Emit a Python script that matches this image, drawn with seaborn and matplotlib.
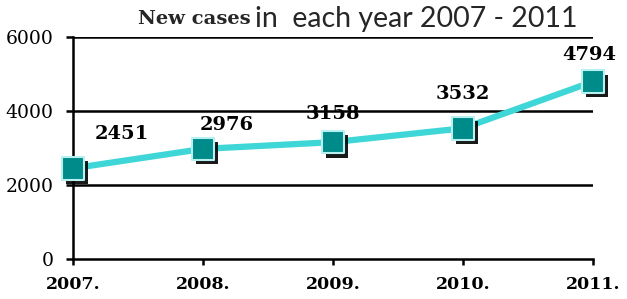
import matplotlib
matplotlib.use("Agg")
import matplotlib.pyplot as plt
import matplotlib.patheffects as pe
import seaborn as sns
import pandas as pd

years = [2007, 2008, 2009, 2010, 2011]
year_labels = ["2007.", "2008.", "2009.", "2010.", "2011."]
new_cases = [2451, 2976, 3158, 3532, 4794]
y_ticks = [0, 2000, 4000, 6000]

# label offsets in points (dx, dy)
label_offsets = [(35, 25), (17, 17), (0, 20), (0, 25), (-3, 19)]

df = pd.DataFrame({"year": years, "cases": new_cases})

sns.set_style("white")
plt.rcParams["font.family"] = ["DejaVu Serif"]

fig = plt.figure(figsize=(6.27, 2.99), dpi=100)
ax = fig.add_axes([0.1164, 0.1338, 0.8294, 0.7425])

sns.lineplot(data=df, x="year", y="cases", ax=ax, color="#3ed6d6",
             linewidth=4.5, zorder=3, clip_on=False)
ax.scatter(df["year"], df["cases"], s=260, marker="s", color="#008b8b",
           edgecolors="#b8f0f0", linewidths=1.5, zorder=4, clip_on=False,
           path_effects=[pe.SimplePatchShadow(offset=(3, -3),
                                              shadow_rgbFace="black",
                                              alpha=0.9),
                         pe.Normal()])

for (x, y), (dx, dy) in zip(zip(years, new_cases), label_offsets):
    ax.annotate(f"{y}", (x, y), xytext=(dx, dy), textcoords="offset points",
                ha="center", va="center", fontsize=14, fontweight="bold",
                color="black", zorder=5)

ax.set_xlim(2007, 2011)
ax.set_ylim(0, 6000)
ax.set_xticks(years)
ax.set_xticklabels(year_labels, fontsize=12.5, fontweight="bold")
ax.set_yticks(y_ticks)
ax.set_yticklabels([str(v) for v in y_ticks], fontsize=13.5)
ax.set_xlabel("")
ax.set_ylabel("")

for v in y_ticks[1:]:
    ax.axhline(v, color="black", linewidth=1.8, zorder=1)

for side in ["top", "right"]:
    ax.spines[side].set_visible(False)
for side in ["left", "bottom"]:
    ax.spines[side].set_color("black")
    ax.spines[side].set_linewidth(1.8)

ax.tick_params(axis="x", direction="out", length=4.5, width=1.8, pad=8,
               bottom=True, colors="black")
ax.tick_params(axis="y", direction="out", length=5, width=1.8, pad=9,
               left=True, colors="black")

fig.text(0.400, 0.937, "New cases", ha="right", va="center", fontsize=14,
         fontweight="bold", family=["DejaVu Serif"])
fig.text(0.407, 0.937, "in  each year 2007 - 2011", ha="left", va="center",
         fontsize=20.5, family=["Lato", "DejaVu Sans"])

fig.savefig("out.png", dpi=100)
